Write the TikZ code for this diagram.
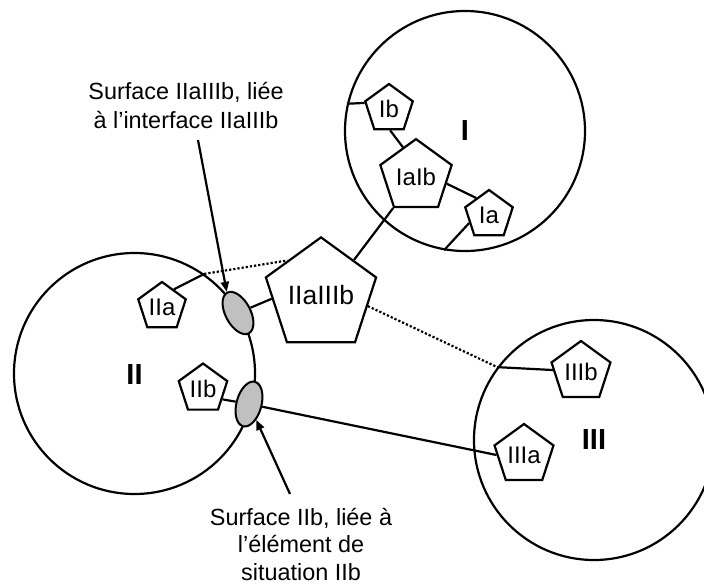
\documentclass[tikz,border=0pt]{standalone}
\usepackage{fontspec}
\setmainfont{Liberation Sans}
\usetikzlibrary{shapes.geometric,arrows.meta}
\definecolor{surfgray}{RGB}{192,192,192}
\tikzset{
  region/.style={circle, draw, inner sep=0pt, line width=2.2pt},
  regionlabel/.style={inner sep=0pt, font=\bfseries\fontsize{29}{32}\selectfont},
  pent/.style={regular polygon, regular polygon sides=5, draw, fill=white, inner sep=0pt, line width=2.2pt, font=\fontsize{24}{28}\selectfont},
  surf/.style={ellipse, draw, fill=surfgray, inner sep=0pt, line width=2pt, minimum width=25pt, minimum height=46pt},
  link/.style={line width=2.2pt},
  dots/.style={line width=2.2pt, dash pattern=on 2.2pt off 2pt},
  note/.style={align=center, inner sep=0pt, font=\fontsize{23.4}{29}\selectfont},
  arr/.style={line width=2.2pt, -{Triangle[length=10pt,width=8pt]}}
}
\begin{document}
\begin{tikzpicture}[x=1pt,y=-1pt]
\useasboundingbox (0,0) rectangle (704,584);
% regions
\node[region, minimum size=240pt] (C1) at (465,131) {};
\node[region, minimum size=241pt] (C2) at (134.5,373.5) {};
\node[region, minimum size=240pt] (C3) at (594,440) {};
\node[regionlabel] (L1) at (465,131) {I};
\node[regionlabel] (L2) at (134.5,375) {II};
\node[regionlabel] (L3) at (594,440) {III};
% surfaces
\node[surf, rotate=28] (E1) at (238,313) {};
\node[surf, rotate=-15] (E2) at (249,404) {};
% elements
\node[pent, minimum size=50pt] (Ib) at (389,109) {Ib};
\node[pent, minimum size=75pt] (IaIb) at (416,176.6) {IaIb};
\node[pent, minimum size=50pt] (Ia) at (489,215) {Ia};
\node[pent, minimum size=91pt, font=\fontsize{26.5}{30}\selectfont] (IIaIIIb) at (321,295.3) {IIaIIIb};
\node[pent, minimum size=50pt] (IIa) at (162,307) {IIa};
\node[pent, minimum size=51pt] (IIb) at (203,389) {IIb};
\node[pent, minimum size=62pt] (IIIb) at (581,372) {IIIb};
\node[pent, minimum size=62pt] (IIIa) at (524,455) {IIIa};
% notes
\node[note, anchor=north] (T1) at (186,81.7) {Surface IIaIIIb, liée\\à l’interface IIaIIIb};
\node[note, anchor=north, font=\fontsize{23.4}{27.5}\selectfont] (T2) at (301,507.7) {Surface IIb, liée à\\l’élément de\\situation IIb};
\coordinate (a1) at (198,140);
\coordinate (a2) at (290,494);
% connectors
\draw[link] (C1.167) -- (Ib.166);
\draw[link] (Ib.273) -- (IaIb.114);
\draw[link] (IaIb.347) -- (Ia.127);
\draw[link] (Ia.202) -- (C1.260);
\draw[link] (IaIb.corner 3) -- (IIaIIIb.47);
\draw[link] (IIaIIIb.184) -- (E1);
\draw[link] (IIa.56) -- (C2.55);
\draw[dots] (C2.55) -- (IIaIIIb.134);
\draw[dots] (IIaIIIb.347) -- (C3.143);
\draw[link] (C3.143) -- (IIIb.176);
\draw[link] (IIb.332) -- (E2);
\draw[link] (E2) -- (IIIa.180);
\draw[arr] (a1) -- (E1.north);
\draw[arr] (a2) -- (E2);
\end{tikzpicture}
\end{document}
